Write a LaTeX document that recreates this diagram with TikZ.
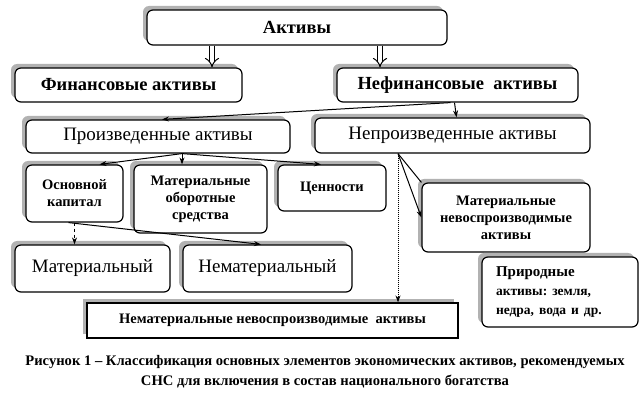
\documentclass[tikz,border=0pt]{standalone}
\usepackage{fontspec}
\setmainfont{Liberation Serif}
\usetikzlibrary{arrows.meta,shadows}

\begin{document}
\frenchspacing
\begin{tikzpicture}[x=1pt, y=-1pt, >={Stealth[length=7pt,width=5pt]}, line width=1pt]
			\tikzstyle{every node}=[align=center, inner sep=1pt]
			\tikzstyle{box}=[draw, line width=1.2pt, rounded corners=6pt, fill=white,
				drop shadow={shadow xshift=-4pt, shadow yshift=4pt, fill=black!30, opacity=1}]
			\tikzstyle{bigtxt}=[font=\bfseries\fontsize{18.5}{21}\selectfont]
			\tikzstyle{midtxt}=[font=\fontsize{19}{21}\selectfont]
			\tikzstyle{smalltxt}=[font=\bfseries\fontsize{14.5}{17}\selectfont]
			\tikzstyle{captxt}=[font=\bfseries\fontsize{14.6}{20}\selectfont]
			\tikzstyle{hollow}=[double, double distance=4pt, line width=1pt, -{Implies}]
				\useasboundingbox (0,0) rectangle (641,409);

				\node[box, bigtxt, minimum width=300pt, minimum height=35pt] (akt) at (297,27.5) {Активы};
				\node[box, bigtxt, minimum width=227pt, minimum height=34pt] (fin) at (128.5,85) {Финансовые активы};
				\node[box, bigtxt, minimum width=241pt, minimum height=34pt] (nefin) at (457.5,85) {Нефинансовые\ \ активы};
				\node[box, midtxt, minimum width=264pt, minimum height=33pt] (proizv) at (158,136.5) {Произведенные активы};
				\node[box, midtxt, minimum width=275pt, minimum height=35pt] (neproizv) at (452.5,135.5) {Непроизведенные активы};
				\node[box, smalltxt, minimum width=97pt, minimum height=57pt] (osn) at (74.5,193.5) {Основной\\капитал};
				\node[box, smalltxt, minimum width=133pt, minimum height=68pt] (oborot) at (200.5,199) {Материальные\\оборотные\\средства};
				\node[box, smalltxt, minimum width=108pt, minimum height=46pt] (cenn) at (332,188) {Ценности};
				\node[box, smalltxt, minimum width=168pt, minimum height=69pt] (matnev) at (506,217.5) {Материальные\\невоспроизводимые\\активы};
				\node[box, midtxt, minimum width=155pt, minimum height=47pt] (mater) at (92.5,268.5) {Материальный};
				\node[box, midtxt, minimum width=169pt, minimum height=47pt] (nemater) at (267.5,268.5) {Нематериальный};
				\node[box, font=\bfseries\fontsize{15}{19}\selectfont, align=left, text width=128pt, inner xsep=14pt, minimum height=70pt] (prirod) at (560,292)
					{Природные\\{\fontsize{13.5}{19}\selectfont активы: земля,}\\{\fontsize{13.5}{19}\selectfont недра, вода и др.}};
				\node[box, smalltxt, rounded corners=0pt, minimum width=371pt, minimum height=35pt] (nemnev) at (272.5,320.5) {Нематериальные невоспроизводимые\ \ активы};
				\node[captxt] (cap) at (325,372) {Рисунок 1 – Классификация основных элементов экономических активов, рекомендуемых\\СНС для включения в состав национального богатства};

				\draw[hollow] ([xshift=-85pt]akt.south) -- ([xshift=-85pt]akt.south |- fin.north);
				\draw[hollow] ([xshift=83pt]akt.south) -- ([xshift=83pt]akt.south |- nefin.north);
				\draw[->] ([xshift=-7pt]nefin.south) to ([xshift=4pt]proizv.north);
				\draw[->] ([xshift=-3pt]nefin.south) to ([xshift=4pt]neproizv.north);
				\draw[->] ([xshift=24pt]proizv.south) to ([xshift=25pt]osn.north);
				\draw[->] ([xshift=24pt]proizv.south) to ([xshift=-18.5pt]oborot.north);
				\draw[->] ([xshift=24pt]proizv.south) to ([xshift=-11pt]cenn.north);
				\draw[->, dashed] (osn.south) to (osn.south |- mater.north);
				\draw[->] ([xshift=-6pt]osn.south) to ([xshift=-6.5pt]nemater.north);
				\draw[->, densely dotted] ([xshift=-54.5pt]neproizv.south) to ([xshift=-54.5pt]neproizv.south |- nemnev.north);
				\draw[->] ([xshift=-54.5pt]neproizv.south) to (matnev.west);
				\draw ([xshift=-54.5pt]neproizv.south) to (matnev.north west);
			\end{tikzpicture}
\end{document}
